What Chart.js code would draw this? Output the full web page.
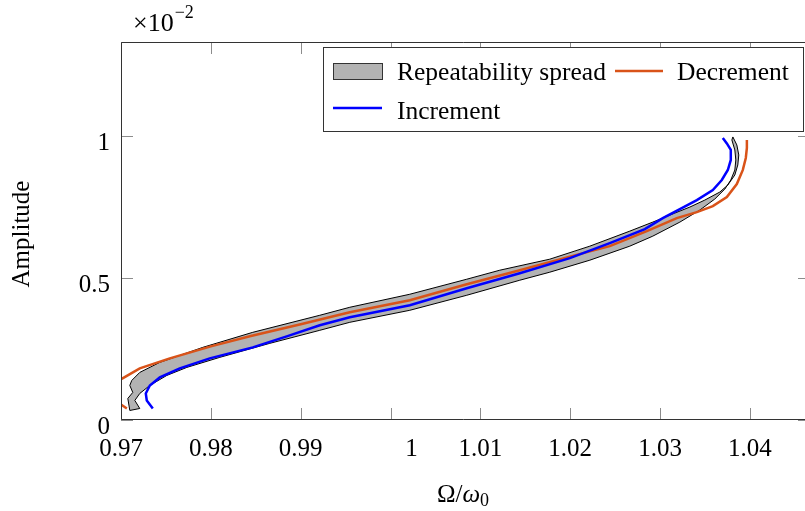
<!DOCTYPE html>
<html>
<head>
<meta charset="utf-8">
<script src="https://cdn.jsdelivr.net/npm/chart.js@4.4.0/dist/chart.umd.min.js"></script>
<style>
  html, body { margin: 0; padding: 0; background: #fff; }
  #wrap { width: 805px; height: 511px; }
</style>
</head>
<body>
<div id="wrap"><canvas id="chart" width="805" height="511"></canvas></div>
<script>
// tick values / labels (amplitude in units of 1e-2)
const xTicks = [0.97, 0.98, 0.99, 1.00, 1.01, 1.02, 1.03, 1.04];
const xTickLabels = ['0.97', '0.98', '0.99', '1', '1.01', '1.02', '1.03', '1.04'];
const yTicks = [0, 0.5, 1];
const yTickLabels = ['0', '0.5', '1'];

// Decrement sweep (top right -> bottom left, leaves the frame on the left)
const decX = [1.03967, 1.03967, 1.03955, 1.03922, 1.03855, 1.03744, 1.03588, 1.03410, 1.03187, 1.02853,
              1.02441, 1.01996, 1.01439, 1.00849, 1.00215, 0.99547, 0.99001, 0.98434, 0.98000, 0.97543,
              0.97209, 0.96998, 0.96820, 0.96764, 0.96875, 0.96998, 0.97065];
const decY = [0.9876, 0.9594, 0.9240, 0.8820, 0.8322, 0.7862, 0.7544, 0.7332, 0.7120, 0.6661,
              0.6131, 0.5760, 0.5283, 0.4788, 0.4223, 0.3799, 0.3375, 0.2951, 0.2597, 0.2173,
              0.1820, 0.1431, 0.1113, 0.0866, 0.0654, 0.0548, 0.0406];

// Increment sweep
const incX = [1.03699, 1.03744, 1.03788, 1.03788, 1.03755, 1.03688, 1.03588, 1.03410, 1.03221, 1.03031,
              1.02831, 1.02441, 1.01996, 1.01439, 1.00849, 1.00215, 0.99547, 0.99213, 0.98845, 0.98467,
              0.97988, 0.97654, 0.97432, 0.97321, 0.97276, 0.97287, 0.97354];
const incY = [0.9947, 0.9753, 0.9523, 0.9170, 0.8816, 0.8463, 0.8110, 0.7756, 0.7438, 0.7120,
              0.6731, 0.6237, 0.5707, 0.5177, 0.4647, 0.4046, 0.3622, 0.3339, 0.2951, 0.2562,
              0.2173, 0.1820, 0.1502, 0.1219, 0.0936, 0.0689, 0.0406];

// Repeatability spread outline (upper edge down, then lower edge back up)
const spreadX = [1.03811, 1.03855, 1.03877, 1.03866, 1.03833, 1.03755, 1.03666, 1.03499, 1.03332, 1.03165,
                 1.02920, 1.02664, 1.02219, 1.01773, 1.01217, 1.00849, 1.00215, 0.99547, 0.99213, 0.98467,
                 0.97911, 0.97432, 0.97209, 0.97120, 0.97098, 0.97131, 0.97076, 0.97098, 0.97209,
                 0.97154, 0.97209, 0.97321, 0.97510, 0.97733, 0.98100, 0.98656, 0.99213, 0.99547, 1.00215,
                 1.00849, 1.01439, 1.01773, 1.02219, 1.02664, 1.02920, 1.03221, 1.03443, 1.03610, 1.03722,
                 1.03788, 1.03833, 1.03844, 1.03833, 1.03800, 1.03811];
const spreadY = [0.9982, 0.9700, 0.9346, 0.8993, 0.8640, 0.8286, 0.8039, 0.7756, 0.7509, 0.7297,
                 0.6979, 0.6661, 0.6131, 0.5671, 0.5283, 0.4965, 0.4435, 0.3975, 0.3693, 0.3092,
                 0.2562, 0.2032, 0.1678, 0.1396, 0.1219, 0.0972, 0.0760, 0.0336, 0.0406,
                 0.0689, 0.0936, 0.1219, 0.1572, 0.1855, 0.2209, 0.2703, 0.3163, 0.3445, 0.3869,
                 0.4399, 0.4929, 0.5212, 0.5636, 0.6131, 0.6484, 0.6979, 0.7403, 0.7792, 0.8145,
                 0.8463, 0.8816, 0.9170, 0.9523, 0.9876, 0.9982];

const ORANGE = '#d95319';
const BLUE = '#0000ff';
const SPREAD = '#b3b3b3';
const FONT = '"Liberation Serif", "Times New Roman", serif';

function pts(xs, ys) {
    return xs.map((v, i) => ({x: v, y: ys[i]}));
}

// pgfplots-like frame, inward ticks, labels, titles and legend
const decorations = {
    id: 'decorations',
    afterDatasetsDraw(chart) {
        const {ctx, chartArea: a, scales: {x, y}} = chart;
        ctx.save();

        ctx.strokeStyle = '#8c8c8c';
        ctx.lineWidth = 1;
        ctx.beginPath();
        xTicks.forEach(v => {
            const px = Math.round(x.getPixelForValue(v)) + 0.5;
            ctx.moveTo(px, a.bottom); ctx.lineTo(px, a.bottom - 12);
            ctx.moveTo(px, a.top); ctx.lineTo(px, a.top + 12);
        });
        yTicks.forEach(v => {
            const py = Math.round(y.getPixelForValue(v)) + 0.5;
            ctx.moveTo(a.left, py); ctx.lineTo(a.left + 12, py);
            ctx.moveTo(a.right, py); ctx.lineTo(a.right - 7, py);
        });
        ctx.stroke();

        ctx.strokeStyle = '#333';
        ctx.beginPath();
        ctx.moveTo(a.right, a.top + 0.5);
        ctx.lineTo(a.left + 0.5, a.top + 0.5);
        ctx.lineTo(a.left + 0.5, a.bottom - 0.5);
        ctx.lineTo(a.right, a.bottom - 0.5);
        ctx.stroke();

        ctx.fillStyle = '#000';
        ctx.font = '25px ' + FONT;
        ctx.textBaseline = 'alphabetic';
        ctx.textAlign = 'center';
        xTicks.forEach((v, i) => {
            let px = x.getPixelForValue(v);
            if (xTickLabels[i] === '1') px += 21;
            ctx.fillText(xTickLabels[i], px, a.bottom + 36);
        });
        ctx.textAlign = 'right';
        yTicks.forEach((v, i) => {
            ctx.fillText(yTickLabels[i], a.left - 11, y.getPixelForValue(v) + 13.5);
        });

        // x title: Omega / omega_0
        const cx = (a.left + a.right) / 2;
        ctx.textAlign = 'left';
        ctx.font = '25px ' + FONT;
        const w1 = ctx.measureText('\u03A9/').width;
        ctx.font = 'italic 25px ' + FONT;
        const w2 = ctx.measureText('\u03C9').width;
        ctx.font = '18px ' + FONT;
        const w3 = ctx.measureText('0').width;
        let sx = cx - (w1 + w2 + w3) / 2;
        ctx.font = '25px ' + FONT;
        ctx.fillText('\u03A9/', sx, 502);
        ctx.font = 'italic 25px ' + FONT;
        ctx.fillText('\u03C9', sx + w1, 502);
        ctx.font = '18px ' + FONT;
        ctx.fillText('0', sx + w1 + w2, 506);

        // y title
        ctx.save();
        ctx.translate(29, (a.top + a.bottom) / 2 + 3);
        ctx.rotate(-Math.PI / 2);
        ctx.textAlign = 'center';
        ctx.font = '25px ' + FONT;
        ctx.fillText('Amplitude', 0, 0);
        ctx.restore();

        // scale factor
        ctx.textAlign = 'left';
        ctx.font = '26px ' + FONT;
        ctx.fillText('\u00D710', 133, 31);
        const wm = ctx.measureText('\u00D710').width;
        ctx.font = '18px ' + FONT;
        ctx.fillText('\u22122', 133 + wm + 1, 18);

        // legend
        ctx.fillStyle = '#fff';
        ctx.fillRect(323, 47, 480, 84);
        ctx.strokeStyle = '#333';
        ctx.strokeRect(323.5, 47.5, 480, 84);
        ctx.fillStyle = SPREAD;
        ctx.fillRect(333, 63, 50, 16);
        ctx.strokeStyle = '#333';
        ctx.strokeRect(333.5, 63.5, 49, 16);
        ctx.lineWidth = 2.5;
        ctx.strokeStyle = ORANGE;
        ctx.beginPath(); ctx.moveTo(615, 71); ctx.lineTo(663, 71); ctx.stroke();
        ctx.strokeStyle = BLUE;
        ctx.beginPath(); ctx.moveTo(333, 108); ctx.lineTo(382, 108); ctx.stroke();
        ctx.fillStyle = '#000';
        ctx.font = '25.5px ' + FONT;
        ctx.fillText('Repeatability spread', 397, 79.5);
        ctx.fillText('Decrement', 677, 79.5);
        ctx.fillText('Increment', 397, 119);

        ctx.restore();
    }
};

const ctx = document.getElementById('chart');
const chart = new Chart(ctx, {
    type: 'scatter',
    data: {
        datasets: [{
            label: 'Repeatability spread',
            data: pts(spreadX, spreadY),
            showLine: true,
            fill: 'shape',
            backgroundColor: SPREAD,
            borderColor: '#000',
            borderWidth: 1,
            pointRadius: 0,
            order: 3
        }, {
            label: 'Decrement',
            data: pts(decX, decY),
            showLine: true,
            borderColor: ORANGE,
            borderWidth: 2.5,
            pointRadius: 0,
            order: 2
        }, {
            label: 'Increment',
            data: pts(incX, incY),
            showLine: true,
            borderColor: BLUE,
            borderWidth: 2.5,
            pointRadius: 0,
            order: 1
        }]
    },
    options: {
        responsive: false,
        animation: false,
        events: [],
        layout: {padding: {left: 121, top: 42, right: 0, bottom: 91}},
        plugins: {
            legend: {display: false},
            tooltip: {enabled: false}
        },
        scales: {
            x: {type: 'linear', min: 0.97, max: 1.04614, display: false},
            y: {type: 'linear', min: 0, max: 1.333, display: false}
        }
    },
    plugins: [decorations]
});
</script>
</body>
</html>
